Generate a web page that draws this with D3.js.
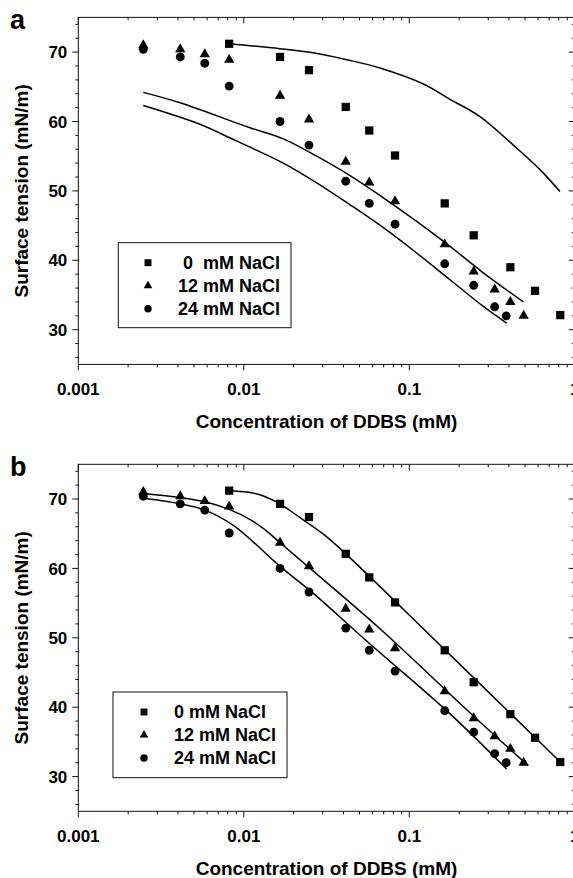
<!DOCTYPE html>
<html lang="en">
<head>
<meta charset="UTF-8">
<title>Surface tension vs DDBS</title>
<script src="https://d3js.org/d3.v7.min.js"></script>
<style>
    body { margin: 0; background: #fff; }
    svg { display: block; font-family: "Liberation Sans", Arial, sans-serif; font-weight: bold; }
    .pre { white-space: pre; }
</style>
</head>
<body>
<div id="chart"></div>
<script>
// measured points (same in both panels)
const conc0 = [0.00816, 0.01656, 0.02477, 0.0413, 0.0573, 0.082, 0.1637, 0.245, 0.408, 0.575, 0.817];
const tens0 = [71.2, 69.3, 67.4, 62.1, 58.7, 55.1, 48.2, 43.6, 39.0, 35.6, 32.1];
const conc12 = [0.00247, 0.00413, 0.00581, 0.00816, 0.01656, 0.02477, 0.0413, 0.0573, 0.082, 0.1637, 0.245, 0.328, 0.408, 0.491];
const tens12 = [71.0, 70.4, 69.7, 68.9, 63.7, 60.3, 54.2, 51.2, 48.5, 42.3, 38.4, 35.8, 34.0, 32.0];
const conc24 = [0.00247, 0.00413, 0.00581, 0.00816, 0.01656, 0.02477, 0.0413, 0.0573, 0.082, 0.1637, 0.245, 0.328, 0.385];
const tens24 = [70.4, 69.3, 68.4, 65.1, 60.0, 56.6, 51.4, 48.2, 45.2, 39.5, 36.4, 33.3, 32.0];

// panel a: model curves
const curveA0x = [0.00816, 0.01656, 0.0263, 0.0419, 0.0665, 0.1216, 0.1762, 0.2674, 0.425, 0.614, 0.814];
const curveA0y = [71.2, 70.5, 69.9, 68.9, 67.7, 65.4, 63.2, 60.7, 56.6, 53.1, 49.9];
const curveA12x = [0.00247, 0.00412, 0.0109, 0.01733, 0.02757, 0.04383, 0.0697, 0.1108, 0.1762, 0.280, 0.489];
const curveA12y = [64.2, 62.7, 59.1, 57.5, 55.0, 52.2, 49.0, 45.6, 42.0, 38.2, 34.0];
const curveA24x = [0.00247, 0.00543, 0.00865, 0.0109, 0.01733, 0.02757, 0.04383, 0.0697, 0.1108, 0.1762, 0.280, 0.3877];
const curveA24y = [62.3, 59.6, 57.4, 56.3, 54.0, 51.15, 48.0, 44.7, 41.05, 37.2, 33.35, 30.95];

// panel b: fitted curves
const curveB0x = [0.00816, 0.0105, 0.0125, 0.0145, 0.01656, 0.0219, 0.03, 0.0413, 0.1637, 0.817];
const curveB0y = [71.2, 71.0, 70.6, 70.0, 69.3, 67.3, 65.0, 62.1, 48.3, 32.1];
const curveB12x = [0.00247, 0.00413, 0.00581, 0.00816, 0.011, 0.0137, 0.01656, 0.0263, 0.0665, 0.2554, 0.523];
const curveB12y = [70.8, 70.2, 69.6, 68.5, 67.0, 65.4, 63.7, 59.6, 51.3, 38.3, 31.6];
const curveB24x = [0.00247, 0.00413, 0.00581, 0.00865, 0.01656, 0.0263, 0.0579, 0.168, 0.387];
const curveB24y = [70.1, 69.3, 68.4, 66.2, 60.3, 56.4, 49.1, 39.5, 31.1];

const xMajor = [0.001, 0.01, 0.1, 1];
const xMajorLabels = ["0.001", "0.01", "0.1", "1"];
const yMajor = [30, 40, 50, 60, 70];
const legendLabelsA = ["0  mM NaCl", "12 mM NaCl", "24 mM NaCl"];
const legendLabelsB = ["0 mM NaCl", "12 mM NaCl", "24 mM NaCl"];

const W = 573, H = 878;
const svg = d3.select('#chart').append('svg').attr('width', W).attr('height', H);

const zip = (xs, ys) => xs.map((x, i) => [x, ys[i]]);
const shapes = [d3.symbolSquare, d3.symbolTriangle, d3.symbolCircle];
const sizes = [68, 46, 62];

function drawPanel(top, letter, curves, legendLabels, leg) {
    const left = 78.3, right = 574.8, bottom = top + 347;
    const x = d3.scaleLog().domain([0.001, 1]).range([left, right]);
    const y = d3.scaleLinear().domain([25, 75]).range([bottom, top]);
    const g = svg.append('g');

    // minor ticks
    const xMinor = [];
    [0.001, 0.01, 0.1].forEach(d => { for (let k = 2; k <= 9; k++) xMinor.push(d * k); });
    const yMinor = d3.range(26, 75, 2).filter(v => v % 10 !== 0);

    // frame
    g.append('rect').attr('x', left).attr('y', top).attr('width', right - left).attr('height', bottom - top)
        .attr('fill', 'none').attr('stroke', '#111').attr('stroke-width', 1);

    const tick = (x1, y1, x2, y2) => g.append('line').attr('x1', x1).attr('y1', y1).attr('x2', x2).attr('y2', y2)
        .attr('stroke', '#111').attr('stroke-width', 1);

    xMajor.forEach(v => { tick(x(v), bottom, x(v), bottom + 6); tick(x(v), top, x(v), top + 6); });
    xMinor.forEach(v => { tick(x(v), bottom, x(v), bottom + 3); tick(x(v), top, x(v), top + 3); });
    yMajor.forEach(v => { tick(left - 6, y(v), left, y(v)); tick(right - 6, y(v), right, y(v)); });
    yMinor.forEach(v => { tick(left - 3, y(v), left, y(v)); tick(right - 3, y(v), right, y(v)); });

    // tick labels
    g.selectAll('.ylab').data(yMajor).enter().append('text')
        .attr('x', left - 11).attr('y', d => y(d)).attr('dy', '0.36em')
        .attr('text-anchor', 'end').attr('font-size', 17).text(d => d);
    g.selectAll('.xlab').data(xMajor).enter().append('text')
        .attr('x', d => x(d)).attr('y', bottom + 31)
        .attr('text-anchor', 'middle').attr('font-size', 17).text((d, i) => xMajorLabels[i]);

    // axis titles
    g.append('text').attr('x', (left + right) / 2).attr('y', bottom + 64)
        .attr('text-anchor', 'middle').attr('font-size', 19).text('Concentration of DDBS (mM)');
    g.append('text').attr('transform', `translate(28,${(top + bottom) / 2}) rotate(-90)`)
        .attr('text-anchor', 'middle').attr('font-size', 19).text('Surface tension (mN/m)');

    // panel letter
    g.append('text').attr('x', 10).attr('y', top + 12).attr('font-size', 27).text(letter);

    // curves
    const line = d3.line().x(d => x(d[0])).y(d => y(d[1])).curve(d3.curveCatmullRom.alpha(0.5));
    curves.forEach(c => {
        g.append('path').datum(zip(c[0], c[1])).attr('d', line)
            .attr('fill', 'none').attr('stroke', '#000').attr('stroke-width', 1.5);
    });

    // markers
    const series = [zip(conc0, tens0), zip(conc12, tens12), zip(conc24, tens24)];
    series.forEach((s, i) => {
        g.selectAll(null).data(s).enter().append('path')
            .attr('transform', d => `translate(${x(d[0])},${y(d[1])})`)
            .attr('d', d3.symbol().type(shapes[i]).size(sizes[i]))
            .attr('fill', '#000');
    });

    // legend
    g.append('rect').attr('x', leg.x).attr('y', leg.y).attr('width', leg.w).attr('height', leg.h)
        .attr('fill', '#fff').attr('stroke', '#111').attr('stroke-width', 1);
    legendLabels.forEach((lab, i) => {
        const ry = leg.y + 20 + i * 23;
        g.append('path').attr('transform', `translate(${leg.mx},${ry})`)
            .attr('d', d3.symbol().type(shapes[i]).size(sizes[i] * 0.7)).attr('fill', '#000');
        g.append('text').attr('class', 'pre').attr('x', leg.tx).attr('y', ry).attr('dy', '0.36em')
            .attr('text-anchor', leg.anchor).attr('font-size', 18).text(lab);
    });
}

drawPanel(17.4, 'a', [[curveA0x, curveA0y], [curveA12x, curveA12y], [curveA24x, curveA24y]], legendLabelsA,
    { x: 118.3, y: 242.7, w: 172.7, h: 85, mx: 148, tx: 280, anchor: 'end' });
drawPanel(464.3, 'b', [[curveB0x, curveB0y], [curveB12x, curveB12y], [curveB24x, curveB24y]], legendLabelsB,
    { x: 113, y: 692, w: 174, h: 85.7, mx: 144, tx: 174, anchor: 'start' });
</script>
</body>
</html>
